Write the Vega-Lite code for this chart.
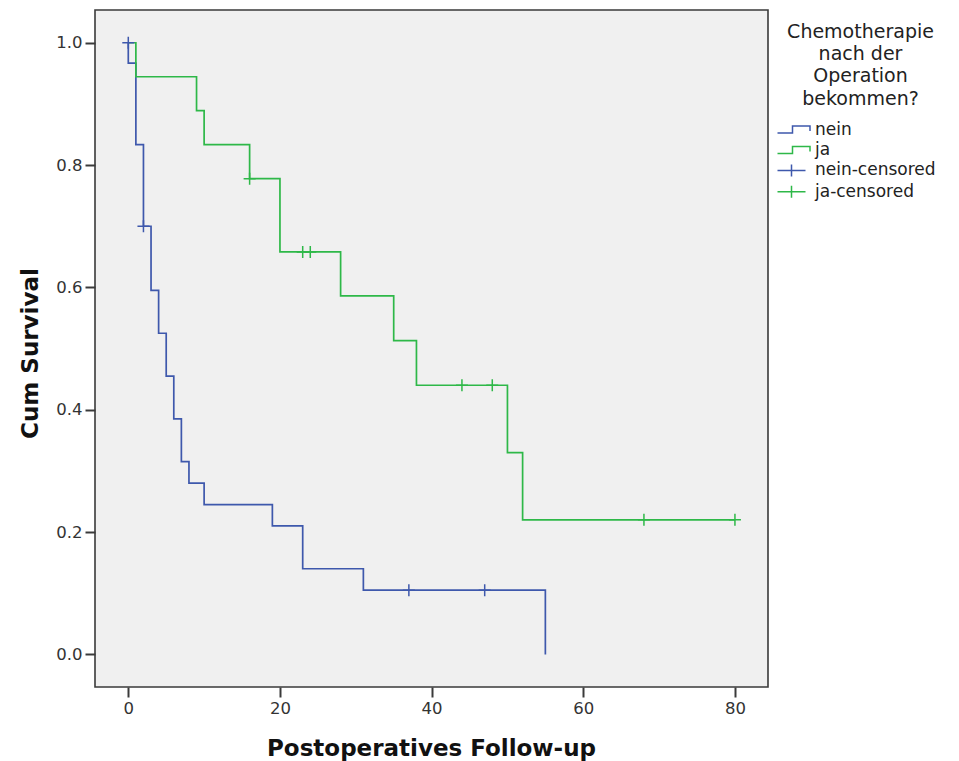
{
  "$schema": "https://vega.github.io/schema/vega-lite/v6.json",
  "width": 673,
  "height": 677,
  "autosize": {"type": "none"},
  "padding": {"left": 95, "top": 10, "right": 191, "bottom": 74},
  "background": "white",
  "config": {
    "view": {"fill": "#f0f0f0", "stroke": "#3a3a3a", "strokeWidth": 1.6},
    "axis": {
      "domain": false, "grid": false,
      "tickSize": 10, "tickWidth": 2, "tickColor": "#3a3a3a",
      "labelFont": "DejaVu Sans", "labelFontSize": 16.5, "labelColor": "#333333",
      "titleFont": "DejaVu Sans", "titleFontSize": 23, "titleFontWeight": "bold", "titleColor": "#111111"
    }
  },
  "datasets": {
    "lines": [
      {"group": "nein", "o": 0, "t": 0, "s": 1.0},
      {"group": "nein", "o": 1, "t": 0, "s": 0.9667},
      {"group": "nein", "o": 2, "t": 1, "s": 0.8333},
      {"group": "nein", "o": 3, "t": 2, "s": 0.70},
      {"group": "nein", "o": 4, "t": 3, "s": 0.595},
      {"group": "nein", "o": 5, "t": 4, "s": 0.525},
      {"group": "nein", "o": 6, "t": 5, "s": 0.455},
      {"group": "nein", "o": 7, "t": 6, "s": 0.385},
      {"group": "nein", "o": 8, "t": 7, "s": 0.315},
      {"group": "nein", "o": 9, "t": 8, "s": 0.28},
      {"group": "nein", "o": 10, "t": 10, "s": 0.245},
      {"group": "nein", "o": 11, "t": 19, "s": 0.21},
      {"group": "nein", "o": 12, "t": 23, "s": 0.14},
      {"group": "nein", "o": 13, "t": 31, "s": 0.105},
      {"group": "nein", "o": 14, "t": 55, "s": 0.0},
      {"group": "ja", "o": 0, "t": 0, "s": 1.0},
      {"group": "ja", "o": 1, "t": 1, "s": 0.9444},
      {"group": "ja", "o": 2, "t": 9, "s": 0.8889},
      {"group": "ja", "o": 3, "t": 10, "s": 0.8333},
      {"group": "ja", "o": 4, "t": 16, "s": 0.7778},
      {"group": "ja", "o": 5, "t": 20, "s": 0.658},
      {"group": "ja", "o": 6, "t": 28, "s": 0.586},
      {"group": "ja", "o": 7, "t": 35, "s": 0.513},
      {"group": "ja", "o": 8, "t": 38, "s": 0.44},
      {"group": "ja", "o": 9, "t": 50, "s": 0.33},
      {"group": "ja", "o": 10, "t": 52, "s": 0.22},
      {"group": "ja", "o": 11, "t": 80, "s": 0.22}
    ],
    "cens": [
      {"group": "nein-censored", "t": 0, "s": 1.0},
      {"group": "nein-censored", "t": 2, "s": 0.70},
      {"group": "nein-censored", "t": 37, "s": 0.105},
      {"group": "nein-censored", "t": 47, "s": 0.105},
      {"group": "ja-censored", "t": 16, "s": 0.7778},
      {"group": "ja-censored", "t": 23, "s": 0.658},
      {"group": "ja-censored", "t": 24, "s": 0.658},
      {"group": "ja-censored", "t": 44, "s": 0.44},
      {"group": "ja-censored", "t": 48, "s": 0.44},
      {"group": "ja-censored", "t": 68, "s": 0.22},
      {"group": "ja-censored", "t": 80, "s": 0.22}
    ]
  },
  "encoding": {
    "x": {
      "field": "t", "type": "quantitative",
      "scale": {"domain": [-4.39, 84.36], "nice": false, "zero": false},
      "axis": {"values": [0, 20, 40, 60, 80], "title": "Postoperatives Follow-up", "labelPadding": 3,
               "titleX": 336, "titleY": 68, "titleBaseline": "alphabetic"}
    },
    "y": {
      "field": "s", "type": "quantitative",
      "scale": {"domain": [-0.0533, 1.0535], "nice": false, "zero": false},
      "axis": {"values": [0, 0.2, 0.4, 0.6, 0.8, 1.0], "format": ".1f", "title": "Cum Survival", "labelPadding": 3,
               "titleX": -58, "titleY": 343, "titleAngle": -90, "titleBaseline": "alphabetic"}
    },
    "color": {
      "field": "group", "type": "nominal",
      "scale": {"domain": ["nein", "ja", "nein-censored", "ja-censored"],
                "range": ["#3E58AC", "#2EB848", "#3E58AC", "#2EB848"]},
      "legend": {
        "title": ["Chemotherapie", "nach der", "Operation", "bekommen?"],
        "orient": "none", "legendX": 690.5, "legendY": 13,
        "titleFont": "DejaVu Sans", "titleFontSize": 19, "titleFontWeight": "normal",
        "titleLineHeight": 22.2, "titleAnchor": "middle", "titleAlign": "center",
        "titlePadding": 12.5, "titleColor": "#222222",
        "labelFont": "DejaVu Sans", "labelFontSize": 17, "labelColor": "#222222",
        "labelOffset": 12.5, "symbolSize": 100, "symbolStrokeWidth": 1.5, "rowPadding": 2.4,
        "encode": {
          "symbols": {
            "update": {
              "shape": {"signal": "indexof(datum.value, 'censored') >= 0 ? 'M-3.3,0H2.3M-0.5,-1.2V1.2' : 'M-3.3,0.7H-0.3V-0.7H3.2V0.3'"},
              "stroke": {"scale": "color", "field": "value"},
              "fill": {"value": "transparent"},
              "strokeWidth": {"value": 1.5}
            }
          }
        }
      }
    }
  },
  "layer": [
    {
      "data": {"name": "lines"},
      "mark": {"type": "line", "interpolate": "step-after", "strokeWidth": 1.7},
      "encoding": {"order": {"field": "o", "type": "quantitative"}}
    },
    {
      "data": {"name": "cens"},
      "mark": {"type": "point", "shape": "M-1,0H1M0,-1V1", "size": 144, "filled": false, "strokeWidth": 1.5, "opacity": 1}
    }
  ]
}
